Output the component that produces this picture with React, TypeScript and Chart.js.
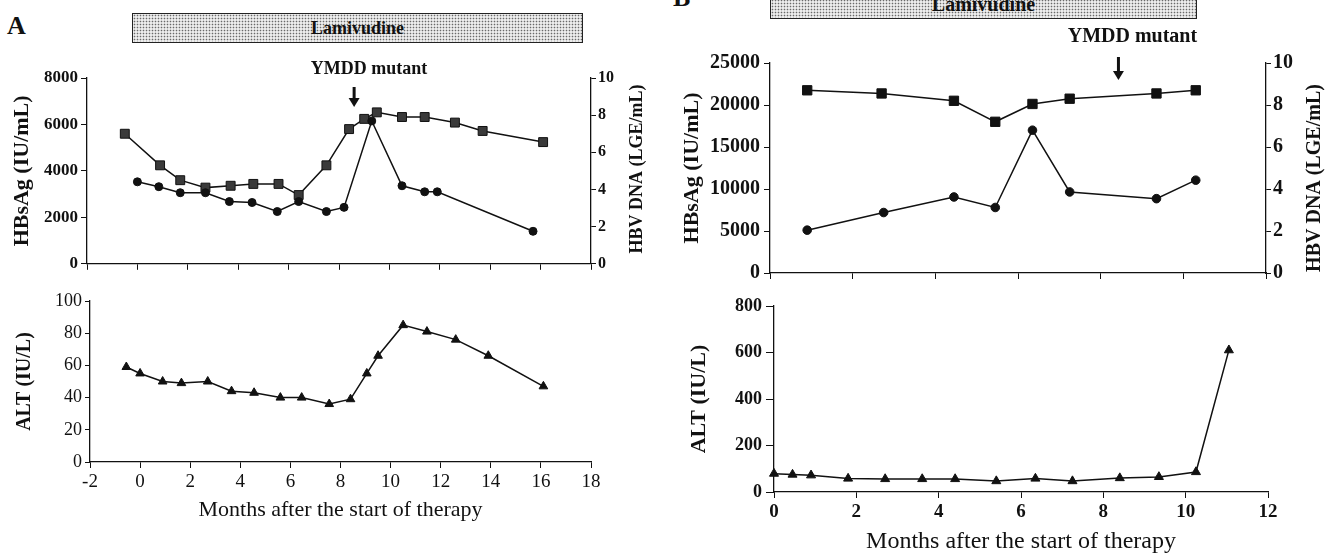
import React, { useEffect, useRef } from "react";
import Chart from "chart.js/auto";

const FONT = "'Liberation Serif', 'Times New Roman', Times, serif";
const INK = "#111";

// ---------- Panel A data ----------
const hbvDnaA_months = [-0.5, 0.9, 1.7, 2.7, 3.7, 4.6, 5.6, 6.4, 7.5, 8.4, 9.0, 9.5, 10.5, 11.4, 12.6, 13.7, 16.1];
const hbvDnaA_values = [7.0, 5.3, 4.5, 4.1, 4.2, 4.3, 4.3, 3.7, 5.3, 7.25, 7.8, 8.15, 7.9, 7.9, 7.6, 7.15, 6.55];
const hbsAgA_months = [0, 0.85, 1.7, 2.7, 3.65, 4.55, 5.55, 6.4, 7.5, 8.2, 9.3, 10.5, 11.4, 11.9, 15.7];
const hbsAgA_values = [3530, 3320, 3060, 3060, 2680, 2640, 2250, 2680, 2250, 2430, 6150, 3360, 3100, 3100, 1400];
const altA_months = [-0.55, 0, 0.9, 1.65, 2.7, 3.65, 4.55, 5.6, 6.45, 7.55, 8.4, 9.05, 9.5, 10.5, 11.45, 12.6, 13.9, 16.1];
const altA_values = [59, 55, 50, 49, 50, 44, 43, 40, 40, 36, 39, 55, 66, 85, 81, 76, 66, 47];

// ---------- Panel B data ----------
const hbvDnaB_months = [0.9, 2.7, 4.45, 5.45, 6.35, 7.25, 9.35, 10.3];
const hbvDnaB_values = [8.7, 8.55, 8.2, 7.2, 8.05, 8.3, 8.55, 8.7];
const hbsAgB_months = [0.9, 2.75, 4.45, 5.45, 6.35, 7.25, 9.35, 10.3];
const hbsAgB_values = [5100, 7200, 9050, 7800, 17000, 9650, 8850, 11050];
const altB_months = [0, 0.45, 0.9, 1.8, 2.7, 3.6, 4.4, 5.4, 6.35, 7.25, 8.4, 9.35, 10.25, 11.05];
const altB_values = [79, 75, 72, 58, 56, 56, 56, 47, 58, 47, 60, 65, 86, 610];

// ---------- axis ranges / labels ----------
const monthsA = { min: -2, max: 18, step: 2 };
const monthsB = { min: 0, max: 12, step: 2 };
const hbsAgA_axis = { min: 0, max: 8000, step: 2000 };
const hbsAgB_axis = { min: 0, max: 25000, step: 5000 };
const dnaAxis = { min: 0, max: 10, step: 2 };
const altA_axis = { min: 0, max: 100, step: 20 };
const altB_axis = { min: 0, max: 800, step: 200 };
const xTitle = "Months after the start of therapy";
const drugLabel = "Lamivudine";
const mutantLabel = "YMDD mutant";
const mutantMonthA = 8.6;
const mutantMonthB = 8.43;

const pts = (xs: number[], ys: number[]) => xs.map((x, i) => ({ x, y: ys[i] }));
const plain = (v: any) => String(v);

const annotPlugin = {
  id: "annot",
  afterDraw(chart: any, _args: any, opts: any) {
    const ctx = chart.ctx;
    const ca = chart.chartArea;
    if (opts.rightTitle) {
      const t = opts.rightTitle;
      ctx.save();
      ctx.translate(ca.right + t.dx, (ca.top + ca.bottom) / 2 + t.dy);
      ctx.rotate(-Math.PI / 2);
      ctx.font = `bold ${t.size}px ${FONT}`;
      ctx.fillStyle = INK;
      ctx.textAlign = "center";
      ctx.textBaseline = "middle";
      ctx.fillText(t.text, 0, 0);
      ctx.restore();
    }
    if (opts.arrow) {
      const a = opts.arrow;
      const x = chart.scales.x.getPixelForValue(a.month);
      ctx.save();
      ctx.fillStyle = INK;
      ctx.strokeStyle = INK;
      ctx.font = `bold ${a.size}px ${FONT}`;
      ctx.textAlign = "center";
      ctx.textBaseline = "middle";
      ctx.fillText(a.text, x + a.textDx, ca.top + a.textDy);
      const y0 = ca.top + a.y0;
      const y1 = ca.top + a.y1;
      ctx.lineWidth = 3;
      ctx.beginPath();
      ctx.moveTo(x, y0);
      ctx.lineTo(x, y1 - 7);
      ctx.stroke();
      ctx.beginPath();
      ctx.moveTo(x - 5.5, y1 - 9);
      ctx.lineTo(x + 5.5, y1 - 9);
      ctx.lineTo(x, y1);
      ctx.closePath();
      ctx.fill();
      ctx.restore();
    }
  },
};

const gridOpts = (len: number) => ({ drawOnChartArea: false, drawTicks: true, tickLength: len, color: INK, lineWidth: 1 });
const borderOpts = { display: true, color: INK, width: 1.3 };

const lineDs = (data: any[], axis: string, style: string, radius: number, fill: string) => ({
  data,
  yAxisID: axis,
  borderColor: INK,
  borderWidth: 1.5,
  pointStyle: style,
  pointRadius: radius,
  pointBackgroundColor: fill,
  pointBorderColor: INK,
  pointBorderWidth: 1,
  tension: 0,
  clip: false,
});

function useChart(ref: any, config: any) {
  useEffect(() => {
    const c = new Chart(ref.current, config);
    return () => c.destroy();
  }, []);
}

const baseOptions = {
  responsive: false,
  animation: false,
  devicePixelRatio: 1,
  events: [],
};

function ChartCanvas({ left, top, width, height, config }: any) {
  const ref = useRef<HTMLCanvasElement>(null);
  useChart(ref, config);
  return (
    <canvas
      ref={ref}
      width={width}
      height={height}
      style={{ position: "absolute", left, top, width, height }}
    />
  );
}

const configA1 = {
  type: "line",
  data: {
    datasets: [
      lineDs(pts(hbsAgA_months, hbsAgA_values), "yL", "circle", 4, INK),
      lineDs(pts(hbvDnaA_months, hbvDnaA_values), "yR", "rect", 6.3, "#3a3a3a"),
    ],
  },
  options: {
    ...baseOptions,
    layout: { padding: { top: 28, left: 0, right: 0, bottom: 0 } },
    plugins: {
      legend: { display: false },
      tooltip: { enabled: false },
      annot: {
        rightTitle: { text: "HBV DNA (LGE/mL)", size: 18, dx: 46, dy: -2 },
        arrow: { month: mutantMonthA, text: mutantLabel, size: 18, textDx: 15, textDy: -9, y0: 9, y1: 29 },
      },
    },
    scales: {
      x: {
        type: "linear",
        min: monthsA.min,
        max: monthsA.max,
        ticks: { stepSize: monthsA.step, display: false },
        grid: gridOpts(6),
        border: borderOpts,
        afterFit: (s: any) => { s.height = 10; },
      },
      yL: {
        position: "left",
        min: hbsAgA_axis.min,
        max: hbsAgA_axis.max,
        ticks: { stepSize: hbsAgA_axis.step, callback: plain, padding: 3, color: INK, font: { family: FONT, size: 17, weight: "bold" } },
        grid: gridOpts(6),
        border: borderOpts,
        title: { display: true, text: "HBsAg (IU/mL)", color: INK, font: { family: FONT, size: 22, weight: "bold" }, padding: { top: 8.8, bottom: 0 } },
        afterFit: (s: any) => { s.width = 87; },
      },
      yR: {
        position: "right",
        min: dnaAxis.min,
        max: dnaAxis.max,
        ticks: { stepSize: dnaAxis.step, callback: plain, padding: 2, color: INK, font: { family: FONT, size: 16, weight: "bold" } },
        grid: gridOpts(5),
        border: borderOpts,
        afterFit: (s: any) => { s.width = 69; },
      },
    },
  },
  plugins: [annotPlugin],
};

const configA2 = {
  type: "line",
  data: {
    datasets: [lineDs(pts(altA_months, altA_values), "y", "triangle", 5, INK)],
  },
  options: {
    ...baseOptions,
    layout: { padding: { top: 16, left: 0, right: 29, bottom: 0 } },
    plugins: { legend: { display: false }, tooltip: { enabled: false } },
    scales: {
      x: {
        type: "linear",
        min: monthsA.min,
        max: monthsA.max,
        ticks: { stepSize: monthsA.step, callback: plain, padding: 3, color: INK, maxRotation: 0, font: { family: FONT, size: 19 } },
        grid: gridOpts(6),
        border: borderOpts,
        title: { display: true, text: xTitle, color: INK, font: { family: FONT, size: 22 }, padding: { top: 0, bottom: 8.8 } },
        afterFit: (s: any) => { s.height = 70; },
      },
      y: {
        position: "left",
        min: altA_axis.min,
        max: altA_axis.max,
        ticks: { stepSize: altA_axis.step, callback: plain, padding: 3, color: INK, font: { family: FONT, size: 18 } },
        grid: gridOpts(5),
        border: borderOpts,
        title: { display: true, text: "ALT (IU/L)", color: INK, font: { family: FONT, size: 20, weight: "bold" }, padding: { top: 13, bottom: 0 } },
        afterFit: (s: any) => { s.width = 90; },
      },
    },
  },
};

const configB1 = {
  type: "line",
  data: {
    datasets: [
      lineDs(pts(hbsAgB_months, hbsAgB_values), "yL", "circle", 4.3, INK),
      lineDs(pts(hbvDnaB_months, hbvDnaB_values), "yR", "rect", 6.6, INK),
    ],
  },
  options: {
    ...baseOptions,
    layout: { padding: { top: 43, left: 0, right: 0, bottom: 0 } },
    plugins: {
      legend: { display: false },
      tooltip: { enabled: false },
      annot: {
        rightTitle: { text: "HBV DNA (LGE/mL)", size: 20, dx: 49, dy: 10 },
        arrow: { month: mutantMonthB, text: mutantLabel, size: 20, textDx: 14, textDy: -26, y0: -6, y1: 17 },
      },
    },
    scales: {
      x: {
        type: "linear",
        min: monthsB.min,
        max: monthsB.max,
        ticks: { stepSize: monthsB.step, display: false },
        grid: gridOpts(6),
        border: borderOpts,
        afterFit: (s: any) => { s.height = 10; },
      },
      yL: {
        position: "left",
        min: hbsAgB_axis.min,
        max: hbsAgB_axis.max,
        ticks: { stepSize: hbsAgB_axis.step, callback: plain, padding: 4, color: INK, font: { family: FONT, size: 20, weight: "bold" } },
        grid: gridOpts(6),
        border: borderOpts,
        title: { display: true, text: "HBsAg (IU/mL)", color: INK, font: { family: FONT, size: 22, weight: "bold" }, padding: { top: 8.8, bottom: 0 } },
        afterFit: (s: any) => { s.width = 100; },
      },
      yR: {
        position: "right",
        min: dnaAxis.min,
        max: dnaAxis.max,
        ticks: { stepSize: dnaAxis.step, callback: plain, padding: 2, color: INK, font: { family: FONT, size: 20, weight: "bold" } },
        grid: gridOpts(5),
        border: borderOpts,
        afterFit: (s: any) => { s.width = 71; },
      },
    },
  },
  plugins: [annotPlugin],
};

const configB2 = {
  type: "line",
  data: {
    datasets: [lineDs(pts(altB_months, altB_values), "y", "triangle", 5.2, INK)],
  },
  options: {
    ...baseOptions,
    layout: { padding: { top: 16, left: 0, right: 69, bottom: 0 } },
    plugins: { legend: { display: false }, tooltip: { enabled: false } },
    scales: {
      x: {
        type: "linear",
        min: monthsB.min,
        max: monthsB.max,
        ticks: { stepSize: monthsB.step, callback: plain, padding: 2.6, color: INK, maxRotation: 0, font: { family: FONT, size: 19, weight: "bold" } },
        grid: gridOpts(6),
        border: borderOpts,
        title: { display: true, text: xTitle, color: INK, font: { family: FONT, size: 24 }, padding: { top: 0, bottom: 13.6 } },
        afterFit: (s: any) => { s.height = 78; },
      },
      y: {
        position: "left",
        min: altB_axis.min,
        max: altB_axis.max,
        ticks: { stepSize: altB_axis.step, callback: plain, padding: 4, color: INK, font: { family: FONT, size: 18, weight: "bold" } },
        grid: gridOpts(8),
        border: borderOpts,
        title: { display: true, text: "ALT (IU/L)", color: INK, font: { family: FONT, size: 22, weight: "bold" }, padding: { top: 15.8, bottom: 0 } },
        afterFit: (s: any) => { s.width = 104; },
      },
    },
  },
};

const stipple: React.CSSProperties = {
  position: "absolute",
  border: "1px solid #222",
  backgroundColor: "#ececec",
  backgroundImage: "radial-gradient(circle, #6a6a6a 0.7px, transparent 1.1px)",
  backgroundSize: "3px 3px",
  display: "flex",
  alignItems: "center",
  justifyContent: "center",
  fontFamily: FONT,
  fontWeight: "bold",
  color: INK,
  boxSizing: "border-box",
};

export default function App() {
  return (
    <div
      style={{
        position: "fixed",
        left: 0,
        top: 0,
        width: 1337,
        height: 554,
        overflow: "hidden",
        background: "#fff",
      }}
    >
      <div style={{ position: "absolute", left: 7, top: 13.4, fontFamily: FONT, fontWeight: "bold", fontSize: 26, lineHeight: "26px", color: INK }}>A</div>
      <div style={{ position: "absolute", left: 673, top: -14.8, fontFamily: FONT, fontWeight: "bold", fontSize: 26, lineHeight: "26px", color: INK }}>B</div>
      <div style={{ ...stipple, left: 132, top: 13, width: 451, height: 30, fontSize: 18 }}>{drugLabel}</div>
      <div style={{ ...stipple, left: 770, top: -11, width: 427, height: 30, fontSize: 20 }}>{drugLabel}</div>
      <ChartCanvas left={0} top={50} width={660} height={227} config={configA1} />
      <ChartCanvas left={0} top={285} width={620} height={247} config={configA2} />
      <ChartCanvas left={670} top={20} width={667} height={269} config={configB1} />
      <ChartCanvas left={670} top={290} width={667} height={280} config={configB2} />
    </div>
  );
}
